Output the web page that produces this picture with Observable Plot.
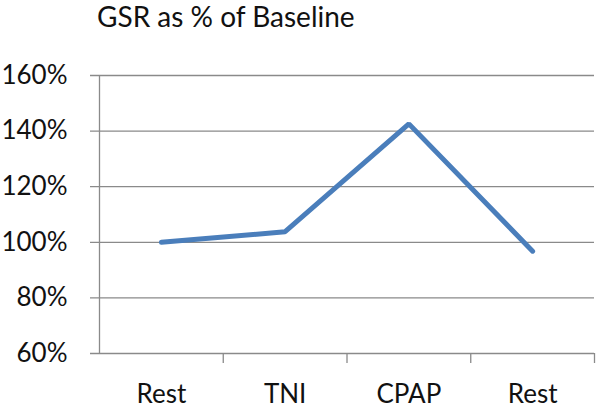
<!DOCTYPE html>
<html>
<head>
<meta charset="utf-8">
<script src="https://cdn.jsdelivr.net/npm/d3@7"></script>
<script src="https://cdn.jsdelivr.net/npm/@observablehq/plot@0.6"></script>
<style>
  html, body { margin: 0; padding: 0; background: #fff; }
  #wrap { position: relative; width: 600px; height: 412px; overflow: hidden; }
  #title { position: absolute; left: 97px; top: 1px; font-family: Lato, sans-serif; font-size: 28px; color: #111; line-height: 30px; white-space: nowrap; }
  svg { display: block; }
</style>
</head>
<body>
<div id="wrap">
  <div id="title">GSR as % of Baseline</div>
</div>
<script>
const categories = ["Rest", "TNI", "CPAP", "Rest"];
const values = [100, 103.8, 142.6, 96.8];
const yTicks = [60, 80, 100, 120, 140, 160];

const data = categories.map((c, i) => ({i, label: c, pos: i + 0.5, value: values[i]}));
const bounds = d3.range(1, categories.length + 1);

const chart = Plot.plot({
  width: 600,
  height: 412,
  marginLeft: 99,
  marginRight: 6,
  marginTop: 75,
  marginBottom: 59,
  style: {fontFamily: "Lato, sans-serif", fontSize: "26px", color: "#111", background: "#fff"},
  x: {type: "linear", domain: [0, categories.length], label: null},
  y: {type: "linear", domain: [60, 160], label: null},
  marks: [
    Plot.ruleY(yTicks, {y: d => d, x1: 0, x2: categories.length, stroke: "#8a8a8a", strokeWidth: 1.3, insetLeft: -9}),
    Plot.ruleX([0], {x: d => d, y1: 60, y2: 160, stroke: "#8a8a8a", strokeWidth: 1.3}),
    Plot.ruleX(bounds, {x: d => d, y1: 60, y2: 60, stroke: "#8a8a8a", strokeWidth: 1.3, insetBottom: -10}),
    Plot.axisY({ticks: yTicks, tickSize: 0, tickPadding: 32, tickFormat: d => d + "%", fill: "#111", label: null}),
    Plot.axisX({ticks: data.map(d => d.pos), tickSize: 0, tickPadding: 31, tickFormat: (d) => categories[Math.floor(d)], fill: "#111", label: null}),
    Plot.line(data, {x: "pos", y: "value", stroke: "#4a7ebb", strokeWidth: 5, strokeLinejoin: "miter", strokeLinecap: "round"})
  ]
});
document.getElementById("wrap").appendChild(chart);
</script>
</body>
</html>
